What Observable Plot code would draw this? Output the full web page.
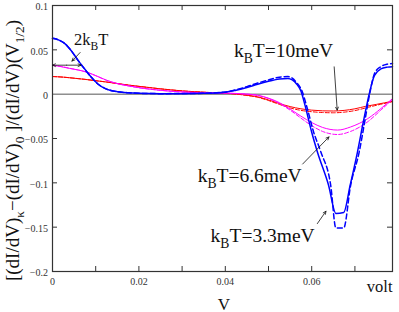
<!DOCTYPE html>
<html>
<head>
<meta charset="utf-8">
<script src="https://cdn.jsdelivr.net/npm/d3@7"></script>
<script src="https://cdn.jsdelivr.net/npm/@observablehq/plot@0.6"></script>
<style>
  html, body { margin: 0; padding: 0; background: #fff; }
  svg, svg text { font-family: "Liberation Serif", "DejaVu Serif", serif !important; }
</style>
</head>
<body>
<div id="chart"></div>
<script>
// ---- data ----
const blueSolidX = [0, 0.0015, 0.003, 0.0045, 0.006, 0.0075, 0.009, 0.0105, 0.012, 0.0135, 0.015, 0.0175, 0.02, 0.025, 0.03, 0.035, 0.04, 0.0425, 0.045, 0.0475, 0.05, 0.0525, 0.0545, 0.0555, 0.0565, 0.0575, 0.0585, 0.06, 0.0613, 0.0639, 0.0656, 0.0674, 0.0689, 0.0706, 0.072, 0.0733, 0.0745, 0.076, 0.0775, 0.0787];
const blueSolidY = [0.063, 0.061, 0.0565, 0.048, 0.0375, 0.028, 0.019, 0.0115, 0.0068, 0.0042, 0.0028, 0.0016, 0.001, 0.0006, 0.0006, 0.0009, 0.0022, 0.0045, 0.0075, 0.0112, 0.0145, 0.0172, 0.0178, 0.016, 0.0115, 0.0035, -0.0135, -0.043, -0.065, -0.1027, -0.1345, -0.1335, -0.1027, -0.065, -0.03, 0, 0.021, 0.0285, 0.0305, 0.031];
const blueDashX = [0, 0.0015, 0.003, 0.0045, 0.006, 0.0075, 0.009, 0.0105, 0.012, 0.0135, 0.015, 0.0175, 0.02, 0.025, 0.03, 0.035, 0.04, 0.0425, 0.045, 0.0475, 0.05, 0.0525, 0.0545, 0.0555, 0.0565, 0.0578, 0.0588, 0.0604, 0.0621, 0.0644, 0.0656, 0.0674, 0.069, 0.071, 0.0722, 0.0734, 0.0746, 0.076, 0.0775, 0.0787];
const blueDashY = [0.063, 0.061, 0.0565, 0.048, 0.0375, 0.028, 0.019, 0.0115, 0.0068, 0.0042, 0.0028, 0.0016, 0.001, 0.0006, 0.0007, 0.001, 0.0025, 0.005, 0.0085, 0.0125, 0.016, 0.0192, 0.0198, 0.018, 0.013, 0.003, -0.013, -0.042, -0.065, -0.103, -0.151, -0.151, -0.103, -0.065, -0.033, 0, 0.024, 0.031, 0.0338, 0.0345];

const magentaSolidX = [0, 0.002, 0.004, 0.006, 0.008, 0.01, 0.0125, 0.015, 0.0175, 0.02, 0.0225, 0.025, 0.0275, 0.03, 0.035, 0.04, 0.0425, 0.045, 0.0475, 0.05, 0.0525, 0.055, 0.0575, 0.06, 0.0625, 0.066, 0.069, 0.073, 0.076, 0.0787];
const magentaSolidY = [0.0327, 0.031, 0.029, 0.0272, 0.0248, 0.021, 0.0158, 0.012, 0.0095, 0.0074, 0.0057, 0.0044, 0.0033, 0.0025, 0.0017, 0.0012, 0.0008, 0.0001, -0.0012, -0.0045, -0.0095, -0.0168, -0.0248, -0.032, -0.0375, -0.0405, -0.037, -0.0275, -0.0163, -0.005];
const magentaDashX = [0, 0.002, 0.004, 0.006, 0.008, 0.01, 0.0125, 0.015, 0.0175, 0.02, 0.0225, 0.025, 0.0275, 0.03, 0.035, 0.04, 0.0425, 0.045, 0.0475, 0.05, 0.0525, 0.055, 0.0575, 0.06, 0.0625, 0.066, 0.069, 0.073, 0.076, 0.0787];
const magentaDashY = [0.0327, 0.0312, 0.0292, 0.0272, 0.0246, 0.0208, 0.0156, 0.0118, 0.0093, 0.0072, 0.0056, 0.0043, 0.0033, 0.0025, 0.0017, 0.0012, 0.0007, 0.0, -0.0015, -0.005, -0.0105, -0.018, -0.027, -0.0355, -0.042, -0.0455, -0.042, -0.031, -0.018, -0.006];

const redSolidX = [0, 0.0025, 0.005, 0.0075, 0.01, 0.0125, 0.015, 0.0175, 0.02, 0.0225, 0.025, 0.0275, 0.03, 0.035, 0.04, 0.0425, 0.045, 0.0475, 0.05, 0.0525, 0.055, 0.0575, 0.06, 0.0625, 0.065, 0.0675, 0.07, 0.0725, 0.075, 0.0787];
const redSolidY = [0.0199, 0.0192, 0.018, 0.0167, 0.0152, 0.0137, 0.012, 0.0103, 0.0088, 0.0074, 0.006, 0.0048, 0.0037, 0.0022, 0.001, 0.0003, -0.0012, -0.003, -0.0065, -0.0105, -0.014, -0.0165, -0.018, -0.0188, -0.019, -0.0183, -0.0165, -0.0137, -0.0115, -0.008];
const redDashX = [0, 0.0025, 0.005, 0.0075, 0.01, 0.0125, 0.015, 0.0175, 0.02, 0.0225, 0.025, 0.0275, 0.03, 0.035, 0.04, 0.0425, 0.045, 0.0475, 0.05, 0.0525, 0.055, 0.0575, 0.06, 0.0625, 0.065, 0.0675, 0.07, 0.0725, 0.075, 0.0787];
const redDashY = [0.0199, 0.0192, 0.018, 0.0167, 0.0152, 0.0137, 0.012, 0.0103, 0.0088, 0.0074, 0.006, 0.0048, 0.0037, 0.0022, 0.0009, 0.0001, -0.0015, -0.0035, -0.0072, -0.0115, -0.0155, -0.0183, -0.0198, -0.0207, -0.021, -0.0203, -0.0185, -0.0155, -0.0125, -0.0085];

// axis ticks and labels
const xMinorTicks = [0.01, 0.02, 0.03, 0.04, 0.05, 0.06, 0.07];
const xTickLabels = [0, 0.02, 0.04, 0.06];
const xTickText = ["0", "0.02", "0.04", "0.06"];
const yTicks = [-0.15, -0.1, -0.05, 0.05];
const yTickLabels = [0.1, 0.05, 0, -0.05, -0.1, -0.15, -0.2];
const yTickText = ["0.1", "0.05", "0", "\u22120.05", "\u22120.1", "\u22120.15", "\u22120.2"];
const xDomain = [0, 0.0787];
const yDomain = [-0.2, 0.1];

const yTitle = "[(dI/dV)_{\u03ba}\u2212(dI/dV)_{0} ]/(dI/dV)(V_{1/2})";
const xTitle = "V";
const xUnit = "volt";

// annotations
const annoText = ["2k_{B}T", "k_{B}T=10meV", "k_{B}T=6.6meV", "k_{B}T=3.3meV"];
const annoX = [0.005, 0.042, 0.0336, 0.0366];
const annoY = [0.0553, 0.0421, -0.099, -0.1667];
const annoSize = [16.5, 19.5, 19.5, 19.5];

const arrowX1 = [0.00328, 0.00328, 0.0064, 0.0652, 0.0579, 0.0613];
const arrowY1 = [0.0327, 0.0327, 0.047, 0.0308, -0.0788, -0.146];
const arrowX2 = [0, 0.0066, 0.0045, 0.0659, 0.064, 0.0633];
const arrowY2 = [0.0327, 0.0327, 0.0373, -0.018, -0.0482, -0.132];

// ---- build tables ----
const zip = (xs, ys) => xs.map((x, i) => ({x, y: ys[i]}));
const series = [
  {data: zip(redSolidX, redSolidY), stroke: "#ff0000", w: 1, dash: null},
  {data: zip(redDashX, redDashY), stroke: "#ff0000", w: 1, dash: "4,2"},
  {data: zip(magentaSolidX, magentaSolidY), stroke: "#ff00ff", w: 1, dash: null},
  {data: zip(magentaDashX, magentaDashY), stroke: "#ff00ff", w: 1, dash: "4,2"},
  {data: zip(blueSolidX, blueSolidY), stroke: "#0000ff", w: 1.5, dash: null},
  {data: zip(blueDashX, blueDashY), stroke: "#0000ff", w: 1.5, dash: "5,3"}
];
const annos = annoText.map((t, i) => ({t, x: annoX[i], y: annoY[i], s: annoSize[i]}));
const arrows = arrowX1.map((x1, i) => ({x1, y1: arrowY1[i], x2: arrowX2[i], y2: arrowY2[i]}));

const W = 399, H = 312;
const mL = 52, mR = 7, mT = 5, mB = 41;
const fw = W - mL - mR, fh = H - mT - mB;
const FONT = "Liberation Serif, DejaVu Serif, serif";

const marks = [
  Plot.ruleY([0], {stroke: "#555", strokeWidth: 1}),
  ...series.map(s => Plot.line(s.data, {x: "x", y: "y", stroke: s.stroke, strokeWidth: s.w, strokeDasharray: s.dash, curve: "monotone-x"})),
  // inward ticks
  Plot.ruleX(xMinorTicks, {x: d => d, insetTop: fh - 5, stroke: "#333"}),
  Plot.ruleX(xMinorTicks, {x: d => d, insetBottom: fh - 5, stroke: "#333"}),
  Plot.ruleY(yTicks, {y: d => d, insetRight: fw - 5, stroke: "#333"}),
  Plot.ruleY(yTicks, {y: d => d, insetLeft: fw - 5, stroke: "#333"}),
  Plot.frame({stroke: "#333", strokeWidth: 1.2}),
  // tick labels
  Plot.text(xTickLabels, {x: d => d, text: (d, i) => xTickText[i], frameAnchor: "bottom", lineAnchor: "middle", dy: 10, fontSize: 10, fill: "#333", fontFamily: FONT}),
  Plot.text(yTickLabels, {y: d => d, text: (d, i) => yTickText[i], frameAnchor: "left", textAnchor: "end", lineAnchor: "middle", dx: -4.5, dy: 1.5, fontSize: 10, fill: "#333", fontFamily: FONT}),
  // axis titles
  Plot.text([yTitle], {text: d => d, frameAnchor: "left", rotate: -90, textAnchor: "middle", lineAnchor: "middle", dx: -40, dy: 12, fontSize: 19, fill: "#111", fontFamily: FONT}),
  Plot.text([xTitle], {text: d => d, frameAnchor: "bottom", textAnchor: "middle", lineAnchor: "bottom", dx: 1.5, dy: 38, fontSize: 17, fill: "#111", fontFamily: FONT}),
  Plot.text([xUnit], {text: d => d, frameAnchor: "bottom-right", textAnchor: "end", lineAnchor: "bottom", dy: 20, fontSize: 16.5, fill: "#111", fontFamily: FONT}),
  // annotations
  Plot.text(annos, {x: "x", y: "y", text: "t", fontSize: "s", textAnchor: "start", lineAnchor: "bottom", fill: "#111", fontFamily: FONT}),
  Plot.arrow(arrows, {x1: "x1", y1: "y1", x2: "x2", y2: "y2", stroke: "#111", strokeWidth: 0.8, headLength: 6, headAngle: 50})
];

const svg = Plot.plot({
  width: W, height: H,
  marginLeft: mL, marginRight: mR, marginTop: mT, marginBottom: mB,
  x: {domain: xDomain, axis: null},
  y: {domain: yDomain, axis: null},
  style: {fontFamily: FONT, background: "#fff"},
  marks
});
d3.select(svg).attr("font-family", FONT);

// turn "_{...}" markup into subscripts
d3.select(svg).selectAll("text").each(function () {
  const el = this;
  const raw = el.textContent;
  if (!raw.includes("_{")) return;
  let fs = parseFloat(el.getAttribute("font-size") || el.parentNode.getAttribute("font-size") || getComputedStyle(el).fontSize) || 16;
  const parts = [];
  const re = /_\{([^}]*)\}/g;
  let last = 0, m;
  while ((m = re.exec(raw))) {
    if (m.index > last) parts.push({t: raw.slice(last, m.index), sub: false});
    parts.push({t: m[1], sub: true});
    last = re.lastIndex;
  }
  if (last < raw.length) parts.push({t: raw.slice(last), sub: false});
  el.textContent = "";
  const shift = fs * 0.3;
  let down = false;
  for (const p of parts) {
    const ts = d3.select(el).append("tspan").text(p.t);
    if (p.sub) {
      ts.attr("font-size", fs * 0.7);
      if (!down) { ts.attr("dy", shift); down = true; }
    } else if (down) {
      ts.attr("dy", -shift); down = false;
    }
  }
});

document.getElementById("chart").appendChild(svg);
</script>
</body>
</html>
